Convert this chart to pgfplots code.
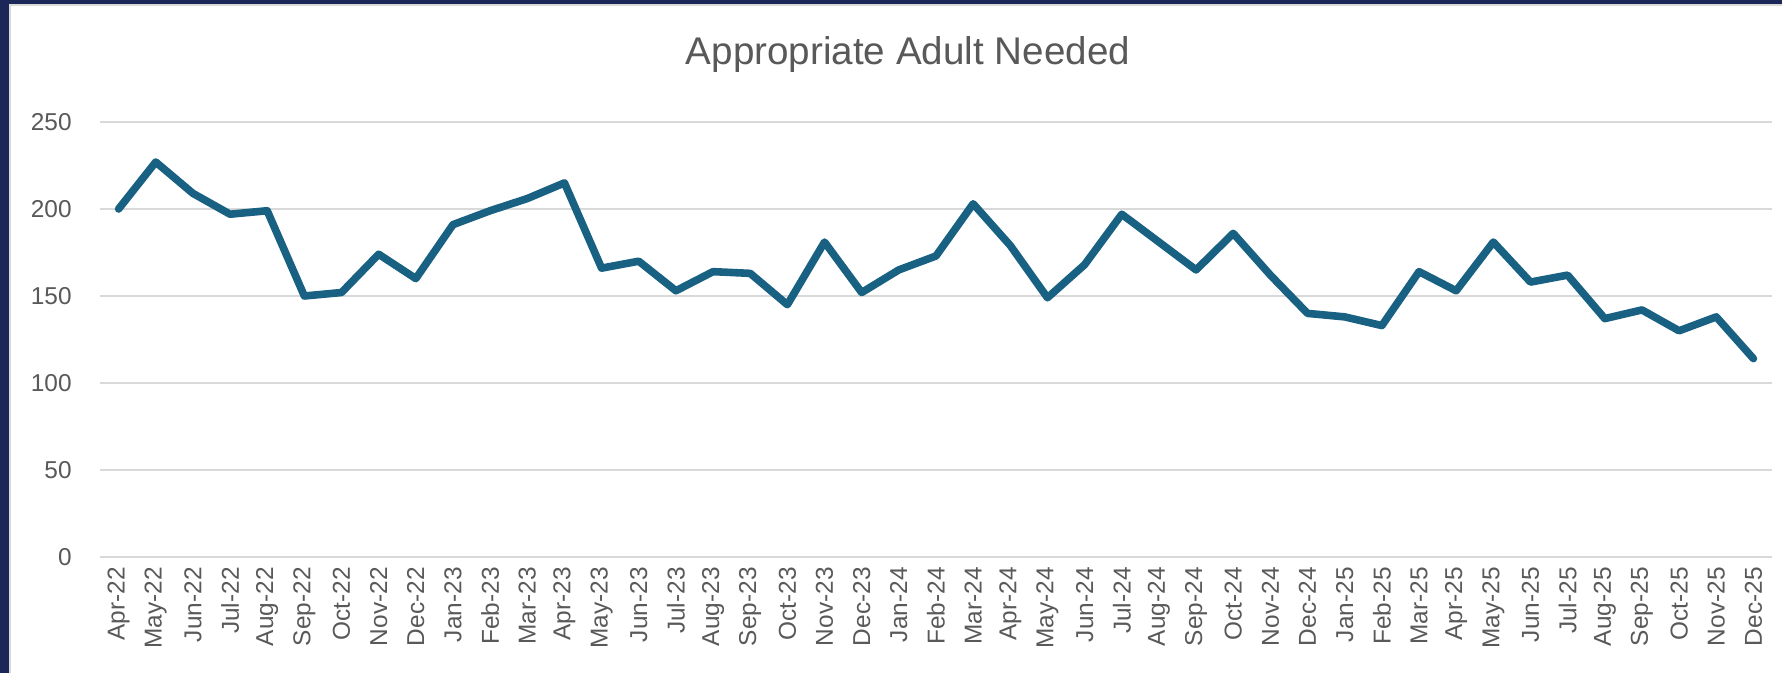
\documentclass[border=0pt]{standalone}
\usepackage{pgfplots}
\pgfplotsset{compat=1.18}
\usepackage{fontspec}
\setmainfont{Liberation Sans}
\definecolor{navyframe}{RGB}{27,38,89}
\definecolor{linecol}{RGB}{25,97,131}
\definecolor{gridcol}{RGB}{217,217,217}
\definecolor{txtcol}{RGB}{89,89,89}
\begin{document}
\begin{tikzpicture}
% background and frame (1px = 0.5bp)
\fill[navyframe] (-50bp,-58bp) rectangle (841bp,278.5bp);
\fill[gridcol] (-45.3bp,-58bp) rectangle (841bp,276.3bp);
\fill[white] (-44.3bp,-58bp) rectangle (841bp,275.3bp);
\begin{axis}[
  at={(0,0)}, anchor=south west,
  width=836bp, height=217.5bp, scale only axis,
  xmin=-0.5, xmax=44.5, ymin=0, ymax=250,
  axis line style={draw=none},
  major tick length=0pt,
  ytick={0,50,100,150,200,250},
  ymajorgrids, grid style={gridcol, line width=1bp},
  xtick={0,...,44},
  xticklabels={Apr-22,May-22,Jun-22,Jul-22,Aug-22,Sep-22,Oct-22,Nov-22,Dec-22,Jan-23,Feb-23,Mar-23,Apr-23,May-23,Jun-23,Jul-23,Aug-23,Sep-23,Oct-23,Nov-23,Dec-23,Jan-24,Feb-24,Mar-24,Apr-24,May-24,Jun-24,Jul-24,Aug-24,Sep-24,Oct-24,Nov-24,Dec-24,Jan-25,Feb-25,Mar-25,Apr-25,May-25,Jun-25,Jul-25,Aug-25,Sep-25,Oct-25,Nov-25,Dec-25},
  /pgf/number format/assume math mode=true,
  ticklabel style={font=\fontsize{12.2bp}{14bp}\selectfont, text=txtcol},
  yticklabel style={anchor=east, inner sep=0pt, xshift=-14bp},
  xticklabel style={inner sep=0pt, anchor=east, yshift=-5bp, rotate=90},
  clip=false,
]
\addplot[linecol, line width=3.8bp, line join=round, line cap=round] coordinates {
(0,200) (1,227) (2,209) (3,197) (4,199) (5,150) (6,152) (7,174) (8,160)
(9,191) (10,199) (11,206) (12,215) (13,166) (14,170) (15,153) (16,164)
(17,163) (18,145) (19,181) (20,152) (21,165) (22,173) (23,203) (24,179)
(25,149) (26,168) (27,197) (28,181) (29,165) (30,186) (31,162) (32,140)
(33,138) (34,133) (35,164) (36,153) (37,181) (38,158) (39,162) (40,137)
(41,142) (42,130) (43,138) (44,114)
};
\end{axis}
\node[text=txtcol, font=\fontsize{19.3bp}{22bp}\selectfont] at (404bp,251.25bp) {Appropriate Adult Needed};
\end{tikzpicture}
\end{document}
